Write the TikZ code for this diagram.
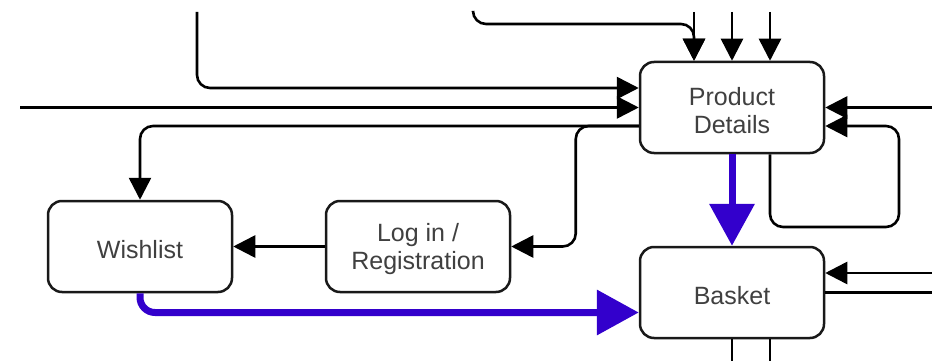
\documentclass[tikz,border=0pt]{standalone}
\usepackage{fontspec}
\setmainfont{Liberation Sans}
\usetikzlibrary{arrows.meta}
\definecolor{flowblue}{RGB}{51,0,204}
% strut that lowers the first line of a box label a little
\newcommand{\boxstrut}{\rule{0pt}{24pt}}
\begin{document}
\begin{tikzpicture}[x=1pt,y=-1pt,
  box/.style={draw=black!90, line width=2.5pt, rounded corners=14pt, fill=white,
    minimum width=184pt, minimum height=91pt, inner sep=0pt, align=center,
    text=black!75, font=\fontsize{25pt}{28pt}\selectfont},
  link/.style={draw=black, line width=2.6pt, rounded corners=13pt},
  arr/.style={link, -{Triangle[length=22pt,width=22pt]}},
  mainflow/.style={draw=flowblue, line width=7pt, rounded corners=15pt,
    -{Triangle[length=42pt,width=44pt]}}]
  \useasboundingbox (0,0) rectangle (932,361);

  % screens
  \node[box] (pd) at (732,107.5) {\boxstrut Product\\Details};
  \node[box] (basket) at (732,292.5) {\boxstrut Basket};
  \node[box] (wish) at (140,246.5) {\boxstrut Wishlist};
  \node[box] (login) at (418,246.5) {\boxstrut Log in /\\Registration};

  % loose ends of links coming from other screens
  \coordinate (inA) at (197,12);
  \coordinate (inB) at (20,107.5);
  \coordinate (inC) at (473,12);
  \coordinate (inD) at (694,12);
  \coordinate (inE) at (732,12);
  \coordinate (inF) at (770,12);
  \coordinate (inG) at (932,107.5);
  \coordinate (inH) at (932,273);
  \coordinate (outH) at (932,292.5);
  \coordinate (outA) at (732,361);
  \coordinate (outB) at (770,361);
  \coordinate (bendC) at (694,24);
  \coordinate (loopR) at (899,227);

  % links into Product Details
  \draw[arr] (inA) |- ([yshift=19.5pt]pd.west);
  \draw[arr] (inB) -- (pd.west);
  \draw[arr] (inC) |- (bendC) -- (inD |- pd.north);
  \draw[arr] (inD) -- (inD |- pd.north);
  \draw[arr] (inE) -- (pd.north);
  \draw[arr] (inF) -- (inF |- pd.north);
  \draw[arr] (inG) -- (pd.east);
  \draw[arr] ([xshift=38pt]pd.south) |- (loopR) |- ([yshift=-18.5pt]pd.east);

  % links out of Product Details
  \draw[arr] ([yshift=-18.5pt]pd.west) -| (wish.north);
  \draw[arr] ([yshift=-18.5pt]pd.west) -- ++(-63,0) |- (login.east);
  \draw[arr] (login.west) -- (wish.east);

  % links around Basket
  \draw[arr] (inH) -- ([yshift=19.5pt]basket.east);
  \draw[link] (basket.east) -- (outH);
  \draw[link] (basket.south) -- (outA);
  \draw[link] ([xshift=38pt]basket.south) -- (outB);

  % main purchase flow
  \draw[mainflow] (pd.south) -- (basket.north);
  \draw[mainflow] (wish.south) |- ([yshift=-20pt]basket.west);
\end{tikzpicture}
\end{document}
